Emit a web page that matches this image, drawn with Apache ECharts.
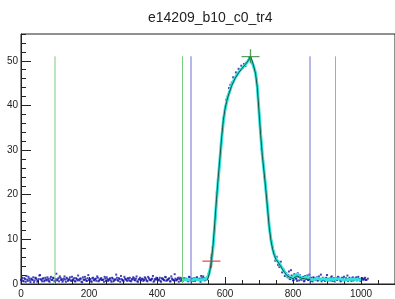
<!DOCTYPE html>
<html>
<head>
<meta charset="utf-8">
<title>e14209_b10_c0_tr4</title>
<script src="https://cdn.jsdelivr.net/npm/echarts/dist/echarts.min.js"></script>
<style>
    html, body { margin: 0; padding: 0; background: #fff; }
    #trace { width: 395px; height: 299px; }
</style>
</head>
<body>
<div id="trace"></div>
<script>
// raw samples, one every 4 ticks starting at 0
var rawStart = 0;
var rawStep = 4;
var rawY = [
    0.9, 1.4, 0.6, 1.1, 1.8, 0.7, 1.2, 0.4, 1.0, 1.5, 0.8, 1.3, 0.5, 1.1, 2.0, 0.9, 1.2, 0.6, 1.4, 0.8,
    1.1, 0.5, 1.6, 0.9, 1.3, 0.7, 2.3, 1.0, 0.6, 1.4, 1.1, 0.8, 1.7, 0.5, 1.2, 0.9, 1.5, 0.7, 1.0, 1.3,
    0.6, 1.1, 1.9, 0.8, 1.2, 0.4, 1.0, 1.6, 0.7, 1.3, 0.9, 1.1, 0.5, 1.4, 0.8, 1.2, 1.7, 0.6, 1.0, 1.3,
    0.9, 0.5, 1.2, 1.5, 0.7, 1.1, 0.8, 1.4, 0.6, 1.0, 2.1, 0.9, 1.3, 0.5, 1.1, 0.8, 1.6, 1.0, 0.7, 1.2,
    1.4, 0.6, 1.0, 1.3, 0.8, 1.7, 0.5, 1.1, 0.9, 1.2, 0.7, 1.5, 1.0, 0.6, 1.3, 0.9, 1.1, 1.8, 0.7, 1.0,
    1.2, 0.8, 1.4, 0.5, 1.1, 0.9, 1.6, 0.7, 1.0, 1.3, 0.6, 1.2, 0.9, 2.2, 0.8, 1.1, 0.5, 1.4, 1.0, 0.7,
    1.3, 0.9, 1.1, 0.6, 1.5, 0.8, 1.2, 1.0, 0.7, 1.4, 0.9, 1.1, 0.5, 1.3, 1.7, 0.8, 1.0,
    // pulse
    1.2, 2.3, 3.6, 5.8, 8.2, 12.0, 15.8, 20.5, 23.4, 27.0, 30.8, 34.6, 37.2, 39.6, 41.3, 42.0, 43.9, 44.6, 45.1, 46.3,
    46.0, 47.4, 47.0, 48.2, 47.8, 48.9, 48.4, 49.3, 48.8, 49.6, 50.1, 50.7, 50.5, 49.6, 48.7, 47.9, 45.8, 43.2, 38.6, 34.5,
    30.2, 27.4, 24.0, 21.2, 17.5, 14.6, 11.8, 9.5, 8.3, 6.9, 5.2, 6.1, 4.3, 3.8, 5.0, 2.6, 3.2, 1.8, 2.4,
    // tail
    1.5, 2.8, 1.1, 1.9, 0.8, 2.2, 1.3, 0.7, 1.6, 2.0, 1.0, 1.4, 0.6, 1.8, 1.2, 0.9, 2.1, 1.1, 0.7, 1.5,
    1.0, 1.3, 0.8, 1.7, 1.1, 0.6, 1.4, 0.9, 1.2, 2.0, 0.8, 1.1, 1.5, 0.7, 1.3, 1.0, 0.9, 1.6, 1.2, 0.6,
    1.4, 1.0, 0.8, 1.3, 1.9, 0.9, 1.1, 0.7, 1.5, 1.0, 1.2, 0.8, 1.6, 1.1, 0.7, 1.3, 1.0, 1.4, 0.9, 1.2
];

// in-between samples on the baseline before and after the pulse
var leftAltStart = 2;
var leftAltY = [
    1.1, 0.7, 1.3, 0.5, 1.0, 1.6, 0.8, 1.2, 0.9, 0.4, 1.4, 1.0, 0.7, 1.9, 1.1, 0.6, 1.3, 0.8, 1.0, 1.5,
    0.7, 1.2, 0.9, 1.4, 0.6, 1.1, 0.8, 1.3, 1.7, 0.9, 0.5, 1.2, 1.0, 1.4, 0.7, 1.1, 0.8, 1.6, 0.9, 0.6,
    1.3, 0.8, 1.0, 1.2, 0.5, 1.5, 0.9, 1.1, 0.7, 2.0, 1.0, 0.6, 1.3, 0.9, 1.1, 0.7, 1.4, 0.8, 1.2, 0.9,
    1.0, 1.6, 0.7, 1.1, 0.9, 1.3, 0.5, 1.2, 0.8, 1.0, 1.4, 0.7, 1.1, 1.8, 0.9, 0.6, 1.2, 1.0, 1.3, 0.8,
    0.7, 1.1, 1.5, 0.9, 1.2, 0.6, 1.0, 1.4, 0.8, 1.1, 0.9, 1.3, 0.7, 1.6, 1.0, 0.8, 1.2, 0.5, 1.1, 1.4,
    0.9, 1.0, 0.7, 1.3, 1.2, 0.8, 1.5, 0.9, 1.1, 0.6, 1.7, 1.0, 0.8, 1.2, 0.9, 1.4, 1.1, 0.7, 1.3, 0.9,
    1.0, 1.2, 0.8, 1.6, 0.9, 1.1, 0.7, 1.3, 1.0, 1.5, 0.9, 1.2, 1.8, 1.0, 1.3, 1.1, 1.4
];
var tailAltStart = 786;
var tailAltY = [
    2.0, 1.2, 3.1, 1.4, 0.9, 1.7, 1.1, 2.4, 0.8, 1.3, 1.0, 1.6, 0.7, 1.2, 1.9, 0.9, 1.1, 1.4, 0.6, 1.3,
    1.0, 1.5, 0.8, 1.2, 2.1, 0.9, 1.1, 0.7, 1.4, 1.0, 1.2, 0.8, 1.7, 1.1, 0.6, 1.3, 0.9, 1.5, 1.0, 0.8,
    1.2, 1.6, 0.9, 1.1, 0.7, 1.4, 1.0, 1.3, 0.8, 1.2, 1.5, 0.9, 1.1, 0.7, 1.3, 1.0, 1.2, 0.9
];

// smoothed trace (cyan)
var smoothX = [476, 488, 500, 512, 524, 536, 546, 552, 556, 560, 565, 570, 575, 580, 585, 590, 595,
    600, 605, 610, 620, 630, 640, 650, 660, 668, 674, 678, 684, 690, 695, 700, 705, 710, 715, 720, 725,
    730, 735, 740, 745, 750, 755, 760, 766, 772, 778, 784, 792, 800, 808, 814, 822, 830, 840, 850, 860,
    870, 880, 890, 900, 910, 920, 935, 950, 965, 980, 1000];
var smoothY = [0.9, 1.0, 0.8, 1.1, 0.9, 1.0, 1.2, 2.0, 3.2, 5.0, 8.4, 13.2, 18.6, 23.4, 27.8, 32.4, 36.3,
    39.0, 40.8, 42.3, 44.6, 46.2, 47.4, 48.3, 49.2, 50.0, 50.6, 50.2, 48.8, 47.2, 44.2, 38.8, 33.4, 28.8, 25.2, 21.4, 17.2,
    13.0, 10.0, 8.0, 6.6, 5.6, 5.2, 4.6, 3.8, 3.1, 2.4, 1.8, 1.5, 1.3, 2.0, 2.2, 1.5, 1.2, 1.6, 1.1, 0.9,
    1.3, 1.0, 1.2, 0.9, 1.1, 1.0, 1.2, 0.9, 1.0, 1.1, 0.9];

// pulse fit (dark green)
var fitX = [548, 552, 556, 560, 565, 570, 575, 580, 585, 590, 595, 600, 605, 610, 620, 630, 640, 650, 660, 668,
    675, 680, 685, 690, 695, 700, 705, 710, 715, 720, 725, 730, 735, 740, 745, 750, 756, 762, 768, 775,
    782, 790, 800, 812, 825, 838, 850];
var fitY = [0.8, 1.8, 3.2, 5.2, 8.8, 13.8, 19.0, 23.8, 28.2, 32.8, 36.6, 39.2, 40.9, 42.3, 44.5, 46.1, 47.3, 48.3, 49.2, 50.0,
    51.0, 50.0, 48.6, 47.0, 44.0, 38.6, 33.2, 28.6, 25.0, 21.2, 17.0, 12.8, 9.8, 7.8, 6.4, 5.5, 4.9, 4.2, 3.4, 2.6,
    1.9, 1.5, 1.2, 1.8, 1.3, 1.1, 1.0];

// window cuts and found points
var greenCuts = [100, 475, 925];
var blueCuts = [500, 850];
var cutTop = 51;
var startMark = [560, 5.2];
var peakMark = [675, 51.0];

var xMax = 1100;
var yMax = 56;

var traceMgr = {

    toPoints: function (start, step, ys) {
        return ys.map(function (y, i) { return [start + i * step, y]; });
    },

    cutSeries: function (xs, color) {
        return xs.map(function (x) {
            return {
                type: 'line',
                data: [[x, 0], [x, cutTop]],
                symbol: 'none',
                silent: true,
                lineStyle: { color: color, width: 1 },
                z: 4
            };
        });
    },

    // ROOT style "+" marker, drawn as two thin bars
    crossSeries: function (pt, color) {
        return {
            type: 'scatter',
            data: [pt],
            symbol: 'path://M0,6.6h18v1.4h-18z M8.3,0h1.4v14h-1.4z',
            symbolSize: [18, 14],
            itemStyle: { color: color },
            silent: true,
            z: 6
        };
    },

    init: function () {
        var chart = echarts.init(document.getElementById('trace'));

        var raw = traceMgr.toPoints(rawStart, rawStep, rawY)
            .concat(traceMgr.toPoints(leftAltStart, rawStep, leftAltY))
            .concat(traceMgr.toPoints(tailAltStart, rawStep, tailAltY));
        var smooth = smoothX.map(function (x, i) { return [x, smoothY[i]]; });
        var fit = fitX.map(function (x, i) { return [x, fitY[i]]; });

        var axisText = { fontFamily: 'Liberation Sans', fontSize: 10, color: '#222' };
        var plain = function (v) { return String(v); };

        var series = [
            {
                type: 'scatter',
                data: raw,
                symbol: 'rect',
                symbolSize: 2,
                itemStyle: { color: '#1616a4' },
                silent: true,
                z: 2
            },
            {
                type: 'line',
                data: smooth,
                symbol: 'none',
                lineStyle: { color: '#2fe3da', width: 3 },
                silent: true,
                z: 3
            },
            {
                type: 'line',
                data: fit,
                symbol: 'none',
                lineStyle: { color: '#0f5a48', width: 1 },
                silent: true,
                z: 5
            }
        ];
        series = series.concat(traceMgr.cutSeries(greenCuts, '#78cc80'));
        series = series.concat(traceMgr.cutSeries(blueCuts, '#7070d0'));
        series.push(traceMgr.crossSeries(startMark, '#f01c1c'));
        series.push(traceMgr.crossSeries(peakMark, '#2f8a3a'));

        var option = {
            animation: false,
            title: {
                text: 'e14209_b10_c0_tr4',
                left: 143,
                top: 6,
                textStyle: { fontFamily: 'Liberation Sans', fontSize: 14, fontWeight: 'normal', color: '#222' }
            },
            grid: {
                left: 21,
                top: 34,
                width: 375,
                height: 253,
                show: true,
                borderColor: '#222',
                borderWidth: 1
            },
            xAxis: [
                {
                    type: 'value', min: 0, max: xMax, interval: 200,
                    axisLine: { lineStyle: { color: '#222' } },
                    axisTick: { inside: true, length: 7, lineStyle: { color: '#222' } },
                    axisLabel: Object.assign({ margin: 5, showMaxLabel: false, formatter: plain }, axisText),
                    splitLine: { show: false }
                },
                {
                    type: 'value', min: 0, max: xMax, interval: 50, position: 'bottom',
                    axisLine: { show: false },
                    axisTick: { inside: true, length: 4, lineStyle: { color: '#222' } },
                    axisLabel: { show: false },
                    splitLine: { show: false }
                }
            ],
            yAxis: [
                {
                    type: 'value', min: 0, max: yMax, interval: 10,
                    axisLine: { show: true, lineStyle: { color: '#222' } },
                    axisTick: { show: true, inside: true, length: 10, lineStyle: { color: '#222' } },
                    axisLabel: Object.assign({ margin: 3, showMaxLabel: false, formatter: plain }, axisText),
                    splitLine: { show: false }
                },
                {
                    type: 'value', min: 0, max: yMax, interval: 2, position: 'left',
                    axisLine: { show: false },
                    axisTick: { show: true, inside: true, length: 5, lineStyle: { color: '#222' } },
                    axisLabel: { show: false },
                    splitLine: { show: false }
                }
            ],
            series: series
        };

        chart.setOption(option);
    }
};

traceMgr.init();
</script>
</body>
</html>
